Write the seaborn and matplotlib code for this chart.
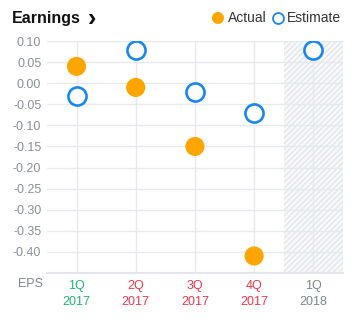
import matplotlib
matplotlib.use("Agg")
import matplotlib.pyplot as plt
import seaborn as sns
import pandas as pd
import numpy as np
from matplotlib.patches import Rectangle

quarters = ["1Q\n2017", "2Q\n2017", "3Q\n2017", "4Q\n2017", "1Q\n2018"]
actual = [0.04, -0.01, -0.15, -0.41, None]
estimate = [-0.03, 0.08, -0.02, -0.07, 0.08]
label_colors = ["#1fb57a", "#f0364a", "#f0364a", "#f0364a", "#7d8590"]
yticks = [0.10, 0.05, 0.00, -0.05, -0.10, -0.15, -0.20, -0.25, -0.30, -0.35, -0.40]

sns.set_theme(style="white")
plt.rcParams['font.family'] = ['Liberation Sans', 'DejaVu Sans']

fig = plt.figure(figsize=(3.58, 3.21), dpi=100)
ax = fig.add_axes([0.131, 0.150, 0.827, 0.722])

x = np.arange(len(quarters))
df_a = pd.DataFrame({"x": x, "v": actual}).dropna()
df_e = pd.DataFrame({"x": x, "v": estimate})

# hatched future region
ax.add_patch(Rectangle((3.5, -0.45), 1.0, 0.56, facecolor="#f7f8fa", edgecolor="#e3e6ea",
                       hatch="//////", linewidth=0, zorder=0))

for yv in yticks:
    ax.axhline(yv, color="#e6e9ee", lw=1, zorder=1)
for xv in x:
    ax.axvline(xv, color="#e6e9ee", lw=1, zorder=1)

sns.scatterplot(data=df_a, x="x", y="v", ax=ax, color="#ffa500", s=190, edgecolor="none", zorder=3)
sns.scatterplot(data=df_e, x="x", y="v", ax=ax, color="white", s=170, edgecolor="#1a87f0",
                linewidth=1.9, zorder=4)

ax.set_xlim(-0.5, 4.5)
ax.set_ylim(-0.45, 0.10)
ax.set_yticks(yticks)
ax.set_yticklabels([f"{v:.2f}" for v in yticks], color="#8a8f96", fontsize=9)
ax.set_xticks(x)
ax.set_xticklabels(quarters, fontsize=9, linespacing=1.5)
for lbl, c in zip(ax.get_xticklabels(), label_colors):
    lbl.set_color(c)
ax.tick_params(axis="both", length=0, pad=4)
ax.tick_params(axis="x", pad=5)
ax.set_xlabel("")
ax.set_ylabel("")
for s in ["top", "right", "left"]:
    ax.spines[s].set_visible(False)
ax.spines["bottom"].set_color("#e3e6ea")
ax.spines["bottom"].set_linewidth(1.5)
ax.set_clip_on(False)

fig.text(18 / 358, 1 - 284 / 321, "EPS", color="#7d8590", fontsize=9, va="center", ha="left")

fig.text(12 / 358, 1 - 18 / 321, "Earnings", fontsize=11.5, fontweight="bold", color="#111111",
         va="center", ha="left")
fig.text(88 / 358, 1 - 19 / 321, "\u203a", fontsize=18, fontweight="bold", color="#111111",
         va="center", ha="left")

# legend
fig.text(228 / 358, 1 - 18 / 321, "Actual", fontsize=10, color="#333333", va="center", ha="left")
fig.text(287 / 358, 1 - 18 / 321, "Estimate", fontsize=10, color="#333333", va="center", ha="left")
leg_ax = fig.add_axes([0, 0, 1, 1], facecolor="none")
leg_ax.set_xlim(0, 358)
leg_ax.set_ylim(321, 0)
leg_ax.axis("off")
leg_ax.scatter([218], [18], s=75, color="#ffa500", edgecolor="none")
leg_ax.scatter([278], [18], s=62, color="white", edgecolor="#1a87f0", linewidth=1.3)

fig.savefig("out.png", dpi=100, facecolor="white")
